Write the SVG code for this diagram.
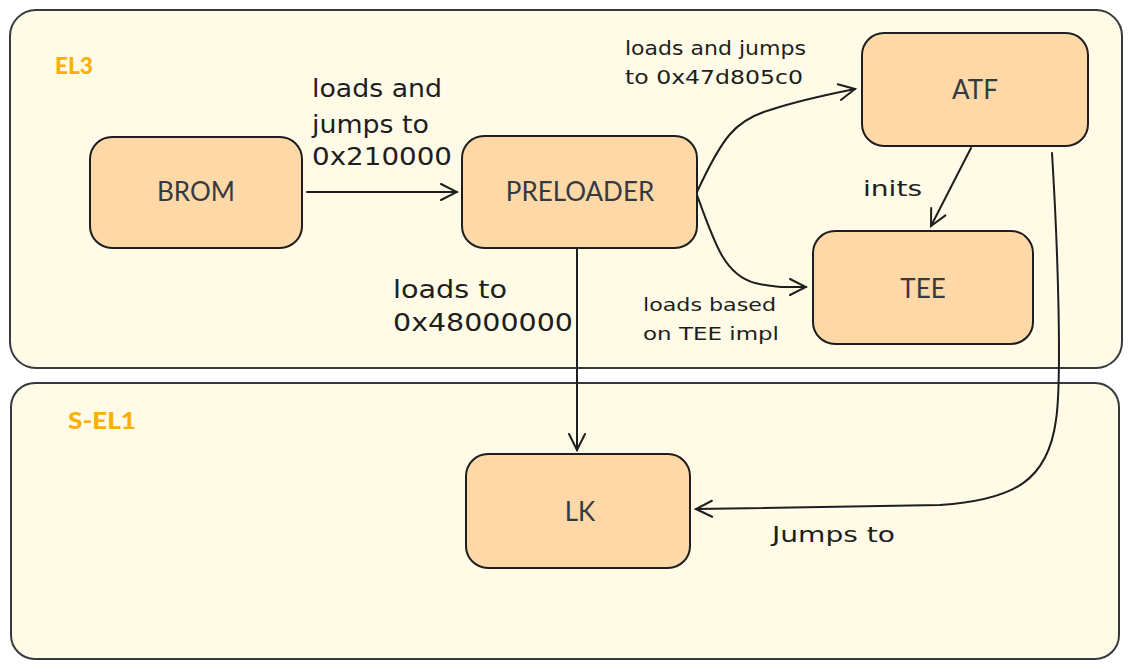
<svg xmlns="http://www.w3.org/2000/svg" width="1131" height="669" viewBox="0 0 1131 669">
<defs>
<style>
.zone{fill:#fffbe6;stroke:#343a40;stroke-width:2}
.node{fill:#ffd8a8;stroke:#1e1e1e;stroke-width:2}
.nl{font-family:"Lato","Noto Sans",sans-serif;font-size:26px;fill:#343a40;text-anchor:middle}
.zl{font-family:"Lato","Liberation Sans",sans-serif;font-weight:900;font-size:23px;fill:#fab005}
.hw{font-family:"DejaVu Sans",sans-serif;fill:#1e1e1e}
.edge{fill:none;stroke:#1e1e1e;stroke-width:2;stroke-linecap:round}
</style>
<marker id="arr" viewBox="0 0 20 20" refX="18" refY="10" markerWidth="20" markerHeight="20" markerUnits="userSpaceOnUse" orient="auto">
<path d="M2,2 L18,10 L2,18" fill="none" stroke="#1e1e1e" stroke-width="2" stroke-linecap="round"/>
</marker>
</defs>
<rect width="1131" height="669" fill="#ffffff"/>
<g id="zone-el3">
<rect class="zone" x="10" y="10" width="1112" height="358" rx="26"/>
<text class="zl" x="55" y="74" textLength="38" lengthAdjust="spacingAndGlyphs">EL3</text>
</g>
<g id="zone-sel1">
<rect class="zone" x="11" y="383" width="1108" height="276" rx="24"/>
<text class="zl" x="68" y="429" textLength="68" lengthAdjust="spacingAndGlyphs">S-EL1</text>
</g>
<g id="connectors">
<path class="edge" marker-end="url(#arr)" d="M307,192 L457,192"/>
<path class="edge" marker-end="url(#arr)" d="M697,192 C722,138 735,120 770,110 C800,100 830,94 855,89"/>
<path class="edge" marker-end="url(#arr)" d="M697,195 C715,245 725,275 755,283 C775,288 790,287 806,287"/>
<path class="edge" marker-end="url(#arr)" d="M971,148 L931,226"/>
<path class="edge" marker-end="url(#arr)" d="M577,248 L577,450"/>
<path class="edge" marker-end="url(#arr)" d="M1052,153 C1058,250 1062,380 1056,420 C1048,480 1015,500 940,505 L696,509"/>
</g>
<g id="label-brom-pre">
<text class="hw" font-size="24" x="312" y="97" textLength="130" lengthAdjust="spacingAndGlyphs">loads and</text>
<text class="hw" font-size="24" x="312" y="133" textLength="117" lengthAdjust="spacingAndGlyphs">jumps to</text>
<text class="hw" font-size="24" x="312" y="165" textLength="140" lengthAdjust="spacingAndGlyphs">0x210000</text>
</g>
<g id="label-pre-lk">
<text class="hw" font-size="24" x="393" y="298" textLength="114" lengthAdjust="spacingAndGlyphs">loads to</text>
<text class="hw" font-size="24" x="393" y="331" textLength="180" lengthAdjust="spacingAndGlyphs">0x48000000</text>
</g>
<g id="label-pre-atf">
<text class="hw" font-size="19" x="625" y="55" textLength="181" lengthAdjust="spacingAndGlyphs">loads and jumps</text>
<text class="hw" font-size="19" x="625" y="84" textLength="178" lengthAdjust="spacingAndGlyphs">to 0x47d805c0</text>
</g>
<g id="label-pre-tee">
<text class="hw" font-size="17" x="643" y="311" textLength="133" lengthAdjust="spacingAndGlyphs">loads based</text>
<text class="hw" font-size="17" x="643" y="340" textLength="136" lengthAdjust="spacingAndGlyphs">on TEE impl</text>
</g>
<g id="label-atf-tee">
<text class="hw" font-size="21" x="863" y="196" textLength="59" lengthAdjust="spacingAndGlyphs">inits</text>
</g>
<g id="label-atf-lk">
<text class="hw" font-size="22" x="772" y="542" textLength="123" lengthAdjust="spacingAndGlyphs">Jumps to</text>
</g>
<g id="node-brom">
<rect class="node" x="90" y="137" width="212" height="111" rx="22"/>
<text class="nl" x="196" y="201">BROM</text>
</g>
<g id="node-preloader">
<rect class="node" x="462" y="136" width="235" height="112" rx="22"/>
<text class="nl" x="580" y="201">PRELOADER</text>
</g>
<g id="node-atf">
<rect class="node" x="862" y="33" width="226" height="113" rx="22"/>
<text class="nl" x="975" y="99">ATF</text>
</g>
<g id="node-tee">
<rect class="node" x="813" y="231" width="220" height="113" rx="22"/>
<text class="nl" x="923" y="298">TEE</text>
</g>
<g id="node-lk">
<rect class="node" x="466" y="454" width="224" height="114" rx="22"/>
<text class="nl" x="580" y="521">LK</text>
</g>
</svg>
